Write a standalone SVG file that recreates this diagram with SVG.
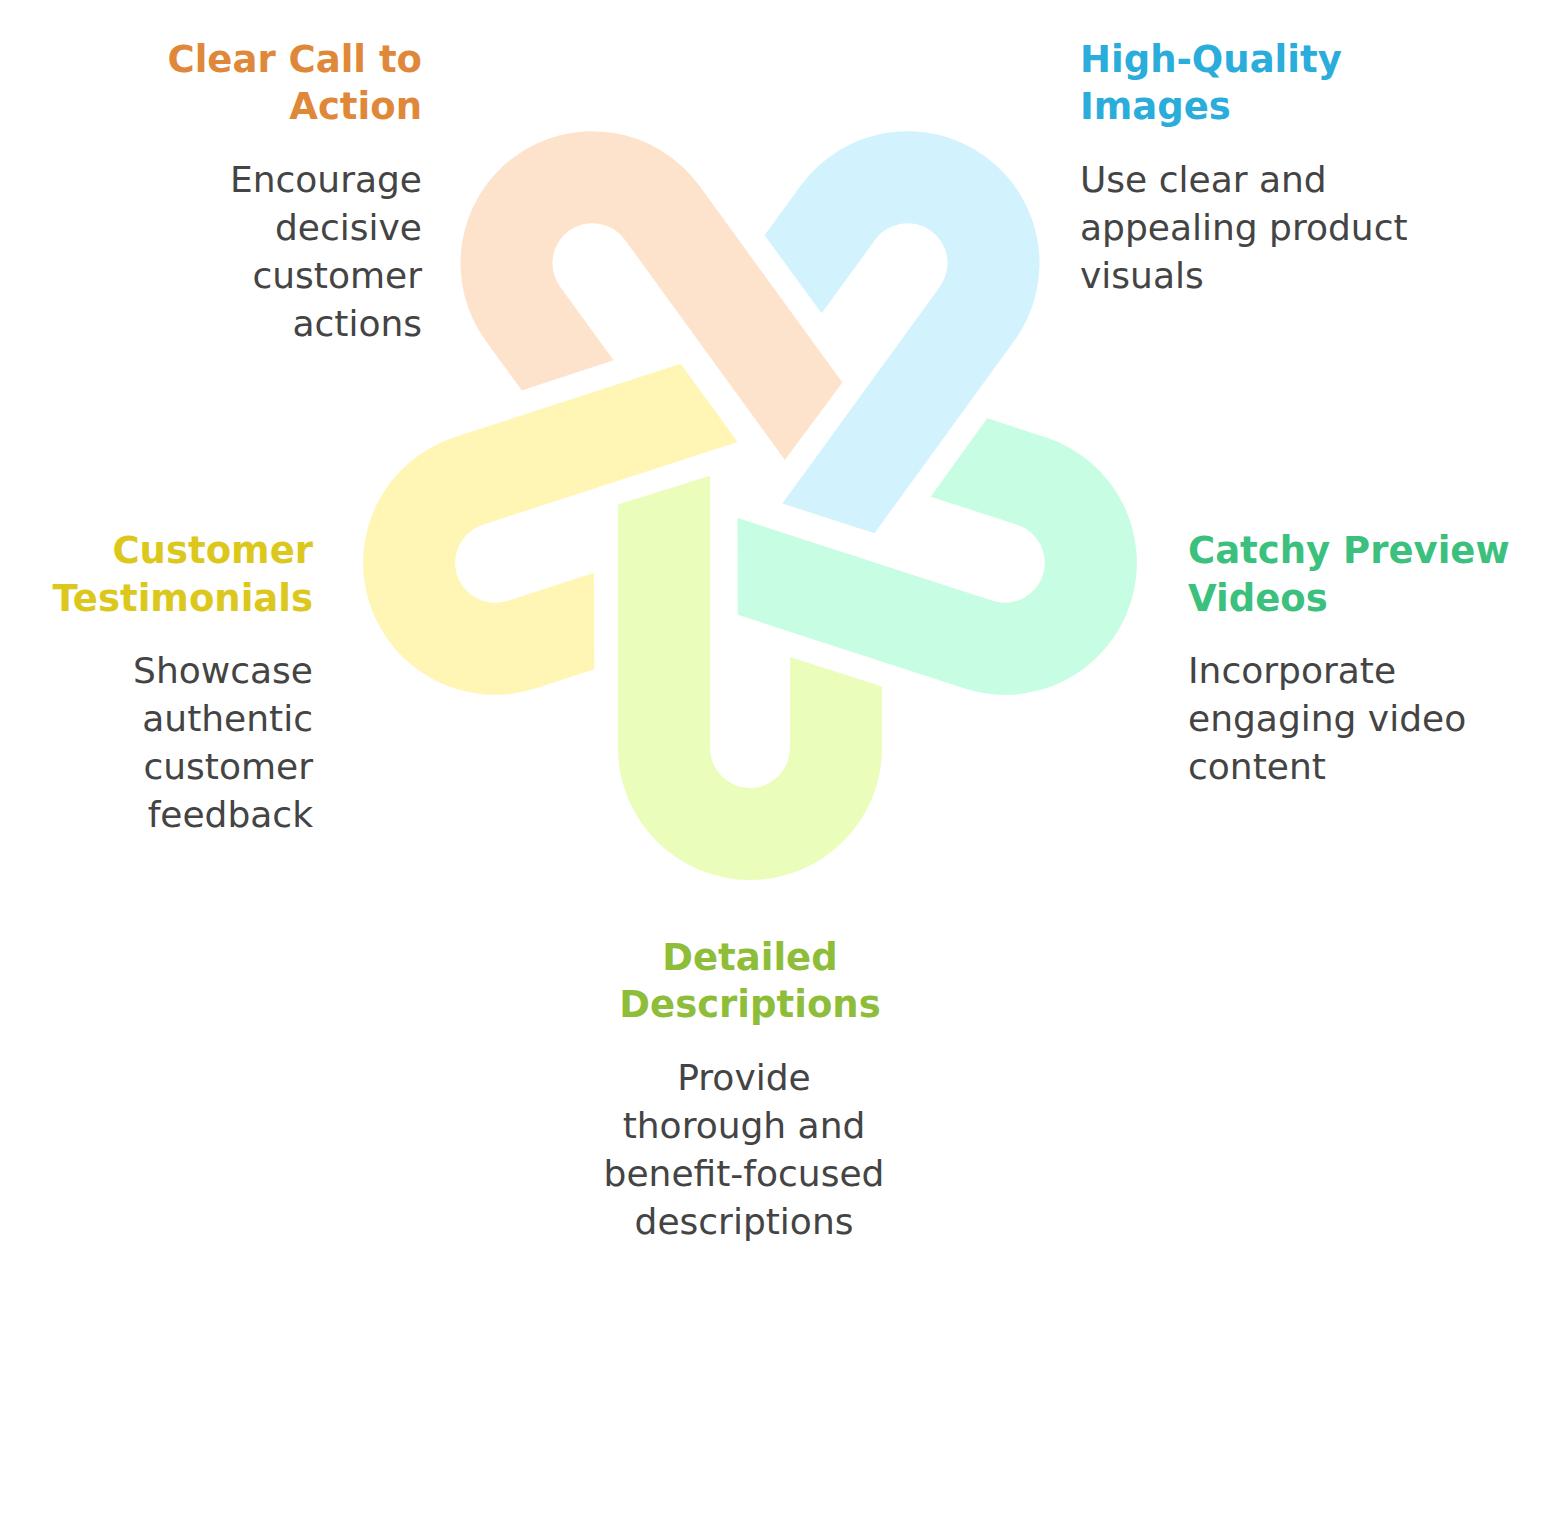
<svg xmlns="http://www.w3.org/2000/svg" width="1543" height="1516" viewBox="0 0 1543 1516">
<style>
.title{font-family:"DejaVu Sans","Liberation Sans",sans-serif;font-weight:bold;font-size:37px}
.body{font-family:"DejaVu Sans","Liberation Sans",sans-serif;font-size:36px;fill:#444444}
.r{text-anchor:end}
.m{text-anchor:middle}
</style>
<defs>
<path id="uLong" d="M -40,-4.3 L -40,268 A 40 40 0 0 0 40,268 L 40,177 L 132,206.5 L 132,268 A 132 132 0 0 1 -132,268 L -132,24.5 Z"/>
<path id="uShort" d="M -40,0 L -40,268 A 40 40 0 0 0 40,268 L 40,177 L 132,206.5 L 132,268 A 132 132 0 0 1 -132,268 L -132,30 Z"/>
</defs>
<rect width="1543" height="1516" fill="#ffffff"/>
<g id="connectors"></g>
<g id="node-detailed">
<use href="#uLong" transform="translate(750,480)" fill="#EAFDBA"/>
<text class="title m" x="750" y="970" fill="#8EBD3A">Detailed</text>
<text class="title m" x="750" y="1017" fill="#8EBD3A">Descriptions</text>
<text class="body m" x="744" y="1090">Provide</text>
<text class="body m" x="744" y="1138">thorough and</text>
<text class="body m" x="744" y="1186">benefit-focused</text>
<text class="body m" x="744" y="1234">descriptions</text>
</g>
<g id="node-catchy">
<use href="#uShort" transform="translate(750,480) rotate(-72)" fill="#C7FDE3"/>
<text class="title" x="1188" y="563" fill="#3CC07E">Catchy Preview</text>
<text class="title" x="1188" y="611" fill="#3CC07E">Videos</text>
<text class="body" x="1188" y="683">Incorporate</text>
<text class="body" x="1188" y="731">engaging video</text>
<text class="body" x="1188" y="779">content</text>
</g>
<g id="node-images">
<use href="#uShort" transform="translate(750,480) rotate(-144)" fill="#D2F3FD"/>
<text class="title" x="1080" y="72" fill="#2AADDB">High-Quality</text>
<text class="title" x="1080" y="119" fill="#2AADDB">Images</text>
<text class="body" x="1080" y="192">Use clear and</text>
<text class="body" x="1080" y="240">appealing product</text>
<text class="body" x="1080" y="288">visuals</text>
</g>
<g id="node-cta">
<use href="#uLong" transform="translate(750,480) rotate(144)" fill="#FEE3CC"/>
<text class="title r" x="422" y="72" fill="#E0883A">Clear Call to</text>
<text class="title r" x="422" y="119" fill="#E0883A">Action</text>
<text class="body r" x="422" y="192">Encourage</text>
<text class="body r" x="422" y="240">decisive</text>
<text class="body r" x="422" y="288">customer</text>
<text class="body r" x="422" y="336">actions</text>
</g>
<g id="node-testimonials">
<use href="#uShort" transform="translate(750,480) rotate(72)" fill="#FFF6B6"/>
<text class="title r" x="313" y="563" fill="#DCC81C">Customer</text>
<text class="title r" x="313" y="611" fill="#DCC81C">Testimonials</text>
<text class="body r" x="313" y="683">Showcase</text>
<text class="body r" x="313" y="731">authentic</text>
<text class="body r" x="313" y="779">customer</text>
<text class="body r" x="313" y="827">feedback</text>
</g>
</svg>
